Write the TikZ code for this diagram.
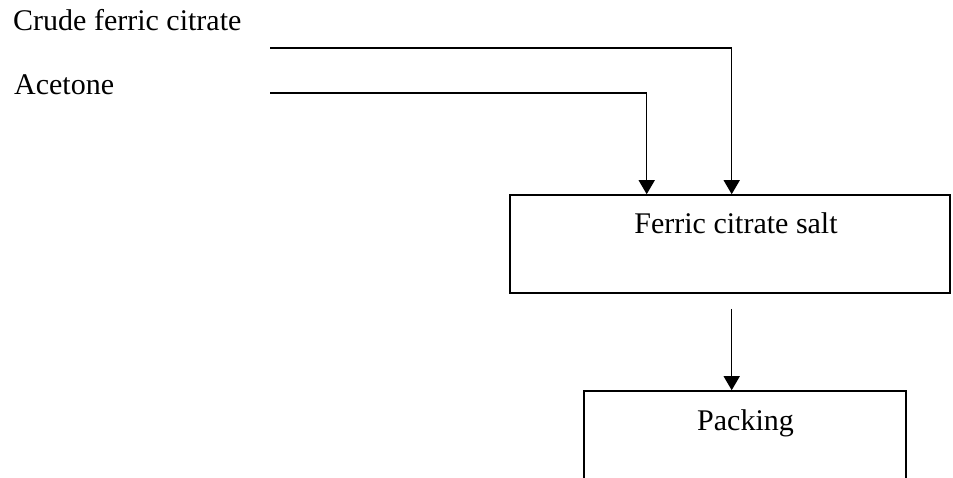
\documentclass[tikz,border=0pt]{standalone}
\usepackage{fontspec}
\setmainfont{Liberation Serif}
\usetikzlibrary{arrows.meta}
\begin{document}
\begin{tikzpicture}[x=1pt,y=-1pt,
  lbl/.style={inner sep=0pt,font=\fontsize{30}{36}\selectfont},
  procbox/.style={draw,line width=1.6pt,inner sep=0pt},
  flow/.style={line width=1.5pt,-{Triangle[length=14pt,width=16pt]}}]
\useasboundingbox (0,0) rectangle (953,478);
\clip (0,0) rectangle (953,478);
% input labels
\node[lbl,anchor=base west] (crude) at (13,31) {Crude ferric citrate};
\node[lbl,anchor=base west] (acetone) at (14,95) {Acetone};
% boxes
\node[procbox,minimum width=440pt,minimum height=98pt] (salt) at (730,244) {};
\node[lbl,anchor=base] (saltlbl) at (736,234) {Ferric citrate salt};
\node[procbox,minimum width=322pt,minimum height=160pt] (pack) at (745,471) {};
\node[lbl,anchor=base] (packlbl) at (745.5,430.5) {Packing};
% free ends of feed lines
\coordinate (s1) at (270,48);
\coordinate (s2) at (270,93);
\coordinate (t1) at (731.7,0);
\coordinate (t2) at (646.7,0);
\coordinate (s3) at (731.7,309);
% connectors
\draw[flow] (s1) -| (salt.north -| t1);
\draw[flow] (s2) -| (salt.north -| t2);
\draw[flow] (s3) -- (pack.north -| s3);
\end{tikzpicture}
\end{document}
